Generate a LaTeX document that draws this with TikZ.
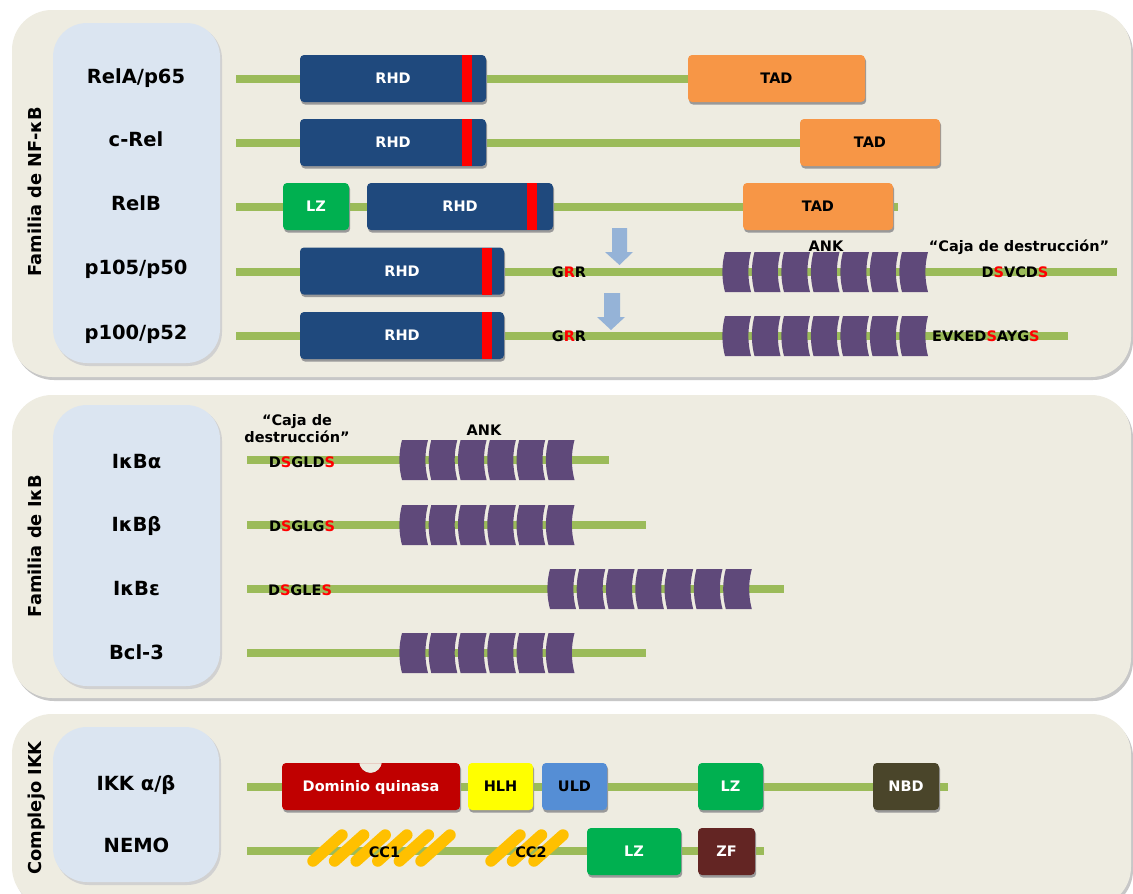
\documentclass[tikz,border=0pt]{standalone}
\usepackage{fontspec}
\setmainfont{DejaVu Sans}
\definecolor{panelc}{HTML}{EEECE1}
\definecolor{innerc}{HTML}{DBE5F1}
\definecolor{lgreen}{HTML}{9BBB59}
\definecolor{rhdc}{HTML}{1F497D}
\definecolor{tadc}{HTML}{F79646}
\definecolor{lzc}{HTML}{00B050}
\definecolor{ankc}{HTML}{5F497A}
\definecolor{redc}{HTML}{FF0000}
\definecolor{kinc}{HTML}{C00000}
\definecolor{hlhc}{HTML}{FFFF00}
\definecolor{uldc}{HTML}{558ED5}
\definecolor{nbdc}{HTML}{4A452A}
\definecolor{zfc}{HTML}{632523}
\definecolor{ccc}{HTML}{FFC000}
\definecolor{arrc}{HTML}{95B3D7}
\newcommand\rowfont{\fontsize{19.5}{22}\selectfont\bfseries}
\newcommand\domfont{\fontsize{14.5}{17}\selectfont\bfseries}
\newcommand\sidefont{\fontsize{17.8}{20}\selectfont\bfseries}
\newcommand\rl[1]{\textcolor{redc}{#1}}
\tikzset{
  panel/.style={fill=panelc, rounded corners=40pt},
  pshadow/.style={fill=black!22, rounded corners=40pt},
  innerbox/.style={fill=innerc, rounded corners=34pt},
  ishadow/.style={fill=black!18, rounded corners=34pt},
  prot/.style={draw=lgreen, line width=8pt},
  dshadow/.style={fill=black!40, rounded corners=4pt},
  dom/.style={rounded corners=4pt, inner sep=0pt, minimum height=47pt,
    font=\domfont, text=white, text height=10.5pt, text depth=0pt},
  rowlabel/.style={font=\rowfont, inner sep=0pt, text height=14.2pt, text depth=0pt},
  sidelabel/.style={font=\sidefont, inner sep=0pt, text height=13pt, text depth=0pt, rotate=90},
  seq/.style={font=\domfont, inner sep=0pt, text height=10.5pt, text depth=0pt},
  redbar/.style={fill=redc},
  coil/.style={draw=ccc, line width=11.5pt, line cap=round},
  downarrow/.style={fill=arrc},
  ank/.pic={\fill[ankc] (-13,-20) .. controls (-16.5,-7) and (-16.5,7) .. (-13,20) -- (13,20) .. controls (9.5,7) and (9.5,-7) .. (13,-20) -- cycle;}
}
\begin{document}
\begin{tikzpicture}[x=1pt,y=-1pt]
\useasboundingbox[fill=white] (0,0) rectangle (1133,894);
% ---------- panels ----------
\fill[pshadow] (14,13) rectangle (1133,380);
\fill[panel] (12,10) rectangle (1131,377);
\fill[pshadow] (14,398) rectangle (1133,701);
\fill[panel] (12,395) rectangle (1131,698);
\fill[pshadow] (14,717) rectangle (1133,910);
\fill[panel] (12,714) rectangle (1131,907);
\fill[ishadow] (55,25) rectangle (222,366);
\fill[innerbox] (53,23) rectangle (220,363);
\fill[ishadow] (55,407) rectangle (222,689);
\fill[innerbox] (53,405) rectangle (220,686);
\fill[ishadow] (55,729) rectangle (221,885);
\fill[innerbox] (53,727) rectangle (219,882);
% ---------- side labels ----------
\node[sidelabel] (s1) at (35,192) {Familia de NF-κB};
\node[sidelabel] (s2) at (35,546) {Familia de IκB};
\node[sidelabel] (s3) at (35,808) {Complejo IKK};
% ---------- NF-kB family ----------
\node[rowlabel] (l1) at (136,76) {RelA/p65};
\node[rowlabel] (l2) at (136,139) {c-Rel};
\node[rowlabel] (l3) at (136,203) {RelB};
\node[rowlabel] (l4) at (136,267) {p105/p50};
\node[rowlabel] (l5) at (136,332) {p100/p52};
\draw[prot] (236,79) -- (862,79);
\draw[prot] (236,143) -- (850,143);
\draw[prot] (236,207) -- (898,207);
\draw[prot] (236,272) -- (1117,272);
\draw[prot] (236,336) -- (1068,336);
\draw[prot] (247,460) -- (609,460);
\draw[prot] (247,525) -- (646,525);
\draw[prot] (247,589) -- (784,589);
\draw[prot] (247,653) -- (646,653);
\draw[prot] (247,787) -- (948,787);
\draw[prot] (247,851) -- (764,851);
% domain shadows
\foreach \a/\b/\c/\d in {300/55/486/102, 688/55/865/102, 300/119/486/166, 800/119/940/166,
  283/183/349/230, 367/183/553/230, 743/183/893/230, 300/247.5/504/294.5, 300/312/504/359,
  282/763/460/810, 468/763/533/810, 542/763/607/810, 698/763/763/810, 873/763/939/810,
  587/828/681/875, 698/828/755/875}
  \fill[dshadow] (\a+1,\b+2.5) rectangle (\c+1.2,\d+2.5);
% RelA
\node[dom, fill=rhdc, minimum width=186pt] (relaRHD) at (393,78.5) {RHD};
\fill[redbar] (462,55) rectangle (472,102);
\node[dom, fill=tadc, text=black, minimum width=177pt] (relaTAD) at (776.5,78.5) {TAD};
% c-Rel
\node[dom, fill=rhdc, minimum width=186pt] (crelRHD) at (393,142.5) {RHD};
\fill[redbar] (462,119) rectangle (472,166);
\node[dom, fill=tadc, text=black, minimum width=140pt] (crelTAD) at (870,142.5) {TAD};
% RelB
\node[dom, fill=lzc, minimum width=66pt] (relbLZ) at (316,206.5) {LZ};
\node[dom, fill=rhdc, minimum width=186pt] (relbRHD) at (460,206.5) {RHD};
\fill[redbar] (527,183) rectangle (537,230);
\node[dom, fill=tadc, text=black, minimum width=150pt] (relbTAD) at (818,206.5) {TAD};
% p105
\node[dom, fill=rhdc, minimum width=204pt] (p105RHD) at (402,271) {RHD};
\fill[redbar] (482,247.5) rectangle (492,294.5);
\node[seq] (grr1) at (569,272.5) {G\rl{R}R};
\fill[downarrow] (612,228) -- (627,228) -- (627,252) -- (633,252) -- (619.5,265) -- (605,252) -- (612,252) -- cycle;
\foreach \i in {0,...,6} \pic at ({738+29.5*\i},272) {ank};
\node[seq] (ank1) at (826,246) {ANK};
\node[seq] (caja1) at (1019,246) {“Caja de destrucción”};
\node[seq] (ds1) at (1015,272.5) {D\rl{S}VCD\rl{S}};
% p100
\node[dom, fill=rhdc, minimum width=204pt] (p100RHD) at (402,335.5) {RHD};
\fill[redbar] (482,312) rectangle (492,359);
\node[seq] (grr2) at (569,336.5) {G\rl{R}R};
\fill[downarrow] (604,293) -- (620,293) -- (620,317) -- (625,317) -- (611,330) -- (597,317) -- (604,317) -- cycle;
\foreach \i in {0,...,6} \pic at ({738+29.5*\i},336) {ank};
\node[seq, anchor=west] (ds2) at (932,336.5) {EVKED\rl{S}AYG\rl{S}};
% ---------- IkB family ----------
\node[rowlabel] (m1) at (136.5,461) {IκBα};
\node[rowlabel] (m2) at (136.5,524) {IκBβ};
\node[rowlabel] (m3) at (136.5,588) {IκBε};
\node[rowlabel] (m4) at (136.5,652) {Bcl-3};
\foreach \i in {0,...,5} \pic at ({415+29.3*\i},460) {ank};
\foreach \i in {0,...,5} \pic at ({415+29.3*\i},525) {ank};
\foreach \i in {0,...,6} \pic at ({563+29.3*\i},589) {ank};
\foreach \i in {0,...,5} \pic at ({415+29.3*\i},653) {ank};
\node[font=\domfont, align=center, inner sep=0pt] (caja2) at (297,429) {“Caja de\\destrucción”};
\node[seq] (ank2) at (484,430) {ANK};
\node[seq] (ds3) at (302,462) {D\rl{S}GLD\rl{S}};
\node[seq] (ds4) at (302,526) {D\rl{S}GLG\rl{S}};
\node[seq] (ds5) at (300,590) {D\rl{S}GLE\rl{S}};
% ---------- IKK complex ----------
\node[rowlabel] (n1) at (136,783) {IKK α/β};
\node[rowlabel] (n2) at (136.5,845.5) {NEMO};
\begin{scope}
  \clip (280,763) rectangle (463,814);
  \fill[panelc] (370.5,761.5) circle[radius=11.5];
\end{scope}
\begin{scope}
  \clip[rounded corners=4pt] (282,763) rectangle (460,810);
  \fill[kinc, even odd rule] (282,763) rectangle (460,810) (370.5,761.5) circle[radius=11.5];
\end{scope}
\node[dom, minimum width=178pt] (kin) at (371,786.5) {Dominio quinasa};
\node[dom, fill=hlhc, text=black, minimum width=65pt] (hlh) at (500.5,786.5) {HLH};
\node[dom, fill=uldc, text=black, minimum width=65pt] (uld) at (574.5,786.5) {ULD};
\node[dom, fill=lzc, minimum width=65pt] (lz1) at (730.5,786.5) {LZ};
\node[dom, fill=nbdc, minimum width=66pt] (nbd) at (906,786.5) {NBD};
\foreach \i in {0,...,5} \draw[coil] ({313+21.6*\i},861) -- ({342+21.6*\i},835);
\foreach \i in {0,...,2} \draw[coil] ({491+21.5*\i},861) -- ({520+21.5*\i},835);
\node[seq] (cc1) at (384.5,852) {CC1};
\node[seq] (cc2) at (531,852) {CC2};
\node[dom, fill=lzc, minimum width=94pt] (lz2) at (634,851.5) {LZ};
\node[dom, fill=zfc, minimum width=57pt] (zf) at (726.5,851.5) {ZF};
\end{tikzpicture}
\end{document}
